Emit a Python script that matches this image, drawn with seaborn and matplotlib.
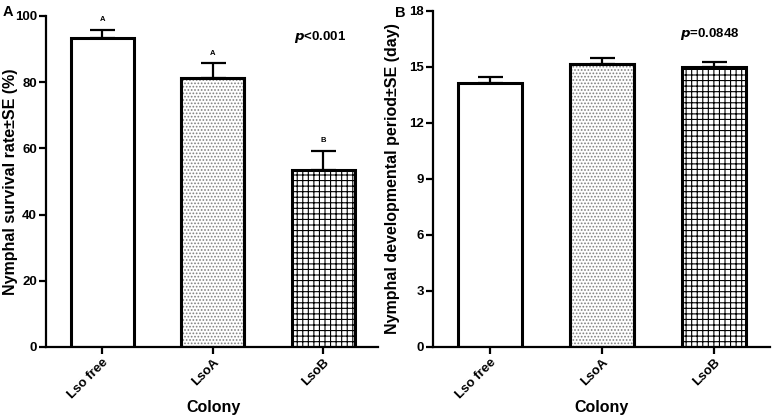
import matplotlib
matplotlib.use("Agg")
import matplotlib.pyplot as plt
from matplotlib.patches import Rectangle
import seaborn as sns
import pandas as pd

colonies = ["Lso free", "LsoA", "LsoB"]
survival = [93.3, 81.3, 53.3]
survival_se = [2.4, 4.4, 6.0]
survival_letters = ["A", "A", "B"]
devel = [14.12, 15.14, 14.98]
devel_se = [0.32, 0.32, 0.27]

hatches = ["", ".....", "+++"]
hatch_colors = ["black", "0.5", "black"]

sns.set_theme(style="ticks")
plt.rcParams['font.family'] = ['Liberation Sans', 'DejaVu Sans']
plt.rcParams['font.weight'] = 'bold'
plt.rcParams['hatch.linewidth'] = 0.8
for k in ['text.color', 'axes.labelcolor', 'xtick.color', 'ytick.color', 'axes.edgecolor']:
    plt.rcParams[k] = 'black'

fig = plt.figure(figsize=(7.73, 4.18), dpi=100)
axA = fig.add_axes([0.0595, 0.170, 0.430, 0.792])
axB = fig.add_axes([0.560, 0.170, 0.436, 0.804])


def draw(ax, vals, ses, ylim, yticks, ylabel, ylab_xy, xlab_xy):
    df = pd.DataFrame({"Colony": colonies, "val": vals})
    sns.barplot(data=df, x="Colony", y="val", ax=ax, color="white",
                edgecolor="black", linewidth=2.2, width=0.57, errorbar=None)
    bars = list(ax.patches)
    for i, p in enumerate(bars):
        p.set_hatch(hatches[i])
        if hatch_colors[i] != "black":
            # hatch follows edge colour: colour the hatch, then redraw outline in black
            p.set_edgecolor(hatch_colors[i])
            ax.add_patch(Rectangle(p.get_xy(), p.get_width(), p.get_height(),
                                   fill=False, edgecolor="black", linewidth=2.2,
                                   zorder=p.get_zorder() + 0.1))
        cx = p.get_x() + p.get_width() / 2
        ax.errorbar(cx, p.get_height(), yerr=[[0], [ses[i]]], color="black",
                    capsize=9, elinewidth=1.6, capthick=1.6, zorder=1)
    ax.set_xlim(-0.51, 2.5)
    ax.set_ylim(*ylim)
    ax.set_yticks(yticks)
    ax.set_yticklabels([str(t) for t in yticks], fontsize=9.5, fontweight='bold')
    ax.set_xticks(range(3))
    ax.set_xticklabels(colonies, rotation=45, ha='right', rotation_mode='anchor',
                       fontsize=9.5, fontweight='bold')
    ax.set_xlabel("Colony", fontsize=11.5, fontweight='bold')
    ax.set_ylabel(ylabel, fontsize=11.5, fontweight='bold')
    ax.yaxis.set_label_coords(*ylab_xy)
    ax.xaxis.set_label_coords(*xlab_xy)
    ax.xaxis.label.set_va('center')
    ax.yaxis.label.set_va('center')
    sns.despine(ax=ax)
    for s in ["left", "bottom"]:
        ax.spines[s].set_linewidth(1.6)
    ax.tick_params(width=1.6, length=5, pad=1.5)
    return bars


barsA = draw(axA, survival, survival_se, (0, 100), [0, 20, 40, 60, 80, 100],
             "Nymphal survival rate±SE (%)", (-0.107, 0.5), (0.504, -0.183))
for i, p in enumerate(barsA):
    cx = p.get_x() + p.get_width() / 2
    axA.text(cx, survival[i] + survival_se[i] + 2.0, survival_letters[i],
             ha='center', va='bottom', fontsize=5.5, fontweight='bold')
axA.text(0.746, 0.935, r"$\it{p}$<0.001", transform=axA.transAxes, fontsize=9.5,
         fontweight='bold', ha='left', va='center')

draw(axB, devel, devel_se, (0, 18), [0, 3, 6, 9, 12, 15, 18],
     "Nymphal developmental period±SE (day)", (-0.12, 0.5), (0.499, -0.181))
axB.text(0.733, 0.931, r"$\it{p}$=0.0848", transform=axB.transAxes, fontsize=9.5,
         fontweight='bold', ha='left', va='center')

fig.text(0.004, 0.971, "A", fontsize=10.5, fontweight='bold', va='center')
fig.text(0.511, 0.969, "B", fontsize=10.5, fontweight='bold', va='center')

fig.savefig("out.png", dpi=100)
